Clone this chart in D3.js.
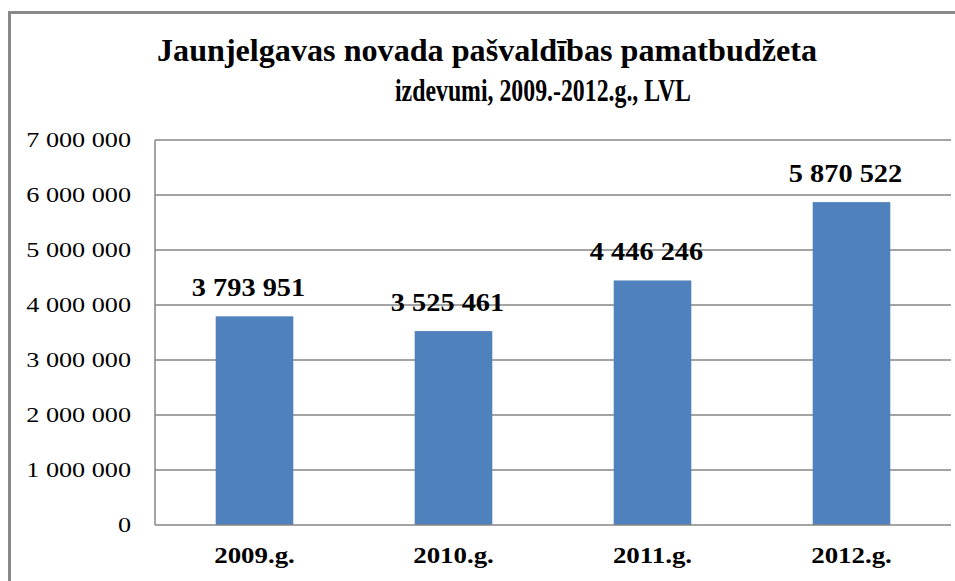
<!DOCTYPE html>
<html>
<head>
<meta charset="utf-8">
<script src="https://cdn.jsdelivr.net/npm/d3@7"></script>
<style>
  html, body { margin: 0; padding: 0; background: #fff; }
  svg { display: block; }
  text { font-family: "Liberation Serif", "Times New Roman", serif; fill: #000; }
</style>
</head>
<body>
<svg id="chart" width="955" height="581"></svg>
<script>
const categories = ["2009.g.", "2010.g.", "2011.g.", "2012.g."];
const values = [3793951, 3525461, 4446246, 5870522];
const yTicks = [0, 1000000, 2000000, 3000000, 4000000, 5000000, 6000000, 7000000];
const titleLines = ["Jaunjelgavas novada pašvaldības pamatbudžeta", "izdevumi, 2009.-2012.g., LVL"];

const W = 955, H = 581;
const plot = { left: 155, right: 951, top: 140, bottom: 525 };
const svg = d3.select("#chart");

const fmt = v => d3.format(",")(v).replace(/,/g, " ");

// outer frame (only top & left visible)
svg.append("path")
  .attr("d", `M9.5,${H} V12.5 H${W}`)
  .attr("fill", "none")
  .attr("stroke", "#898989")
  .attr("stroke-width", 3);

const x = d3.scaleBand().domain(categories).range([plot.left, plot.right]).paddingInner(0.61).paddingOuter(0.305);
const y = d3.scaleLinear().domain([0, 7000000]).range([plot.bottom, plot.top]);

// gridlines
svg.append("g").selectAll("line").data(yTicks.slice(1)).join("line")
  .attr("x1", plot.left).attr("x2", plot.right)
  .attr("y1", d => y(d)).attr("y2", d => y(d))
  .attr("stroke", "#868686").attr("stroke-width", 1.5);

// bars
svg.append("g").selectAll("rect").data(values).join("rect")
  .attr("x", (d, i) => x(categories[i]))
  .attr("width", x.bandwidth())
  .attr("y", d => y(d))
  .attr("height", d => y(0) - y(d))
  .attr("fill", "#4F81BD");

// axes lines
svg.append("line").attr("x1", plot.left).attr("x2", plot.left)
  .attr("y1", plot.top).attr("y2", plot.bottom)
  .attr("stroke", "#868686").attr("stroke-width", 1.5);
svg.append("line").attr("x1", plot.left).attr("x2", plot.right)
  .attr("y1", plot.bottom).attr("y2", plot.bottom)
  .attr("stroke", "#868686").attr("stroke-width", 1.5);

// y axis labels via d3 axis
const yAxis = d3.axisLeft(y).tickValues(yTicks).tickFormat(fmt).tickSize(0).tickPadding(24);
const yg = svg.append("g").attr("transform", `translate(${plot.left},0)`).call(yAxis);
yg.select(".domain").remove();
yg.selectAll("text")
  .attr("font-family", "Liberation Serif, Times New Roman, serif")
  .attr("font-size", 22)
  .attr("fill", "#000")
  .attr("dy", "0.28em");
yg.selectAll("text").each(function() {
  const l = this.getComputedTextLength();
  d3.select(this).attr("textLength", l * 1.19).attr("lengthAdjust", "spacingAndGlyphs");
});

// x axis labels
const xAxis = d3.axisBottom(x).tickSize(0).tickPadding(0);
const xg = svg.append("g").attr("transform", `translate(0,${plot.bottom})`).call(xAxis);
xg.select(".domain").remove();
xg.selectAll("text")
  .attr("font-family", "Liberation Serif, Times New Roman, serif")
  .attr("font-size", 24)
  .attr("font-weight", "bold")
  .attr("fill", "#000")
  .attr("y", 38).attr("dy", 0);
xg.selectAll("text").each(function() {
  const l = this.getComputedTextLength();
  d3.select(this).attr("textLength", l * 1.12).attr("lengthAdjust", "spacingAndGlyphs");
});

// value labels
svg.append("g").selectAll("text").data(values).join("text")
  .attr("x", (d, i) => x(categories[i]) + x.bandwidth() / 2 - 6)
  .attr("y", d => y(d) - 20)
  .attr("text-anchor", "middle")
  .attr("font-size", 26)
  .attr("font-weight", "bold")
  .text(fmt)
  .each(function() {
    const l = this.getComputedTextLength();
    d3.select(this).attr("textLength", l * 1.09).attr("lengthAdjust", "spacingAndGlyphs");
  });

// title
const t1 = svg.append("text").attr("x", 487).attr("y", 61).attr("text-anchor", "middle")
  .attr("font-size", 32).attr("font-weight", "bold").text(titleLines[0])
  .attr("textLength", 660).attr("lengthAdjust", "spacingAndGlyphs");
const t2 = svg.append("text").attr("x", 543).attr("y", 101).attr("text-anchor", "middle")
  .attr("font-size", 32).attr("font-weight", "bold").text(titleLines[1])
  .attr("textLength", 296).attr("lengthAdjust", "spacingAndGlyphs");
</script>
</body>
</html>
